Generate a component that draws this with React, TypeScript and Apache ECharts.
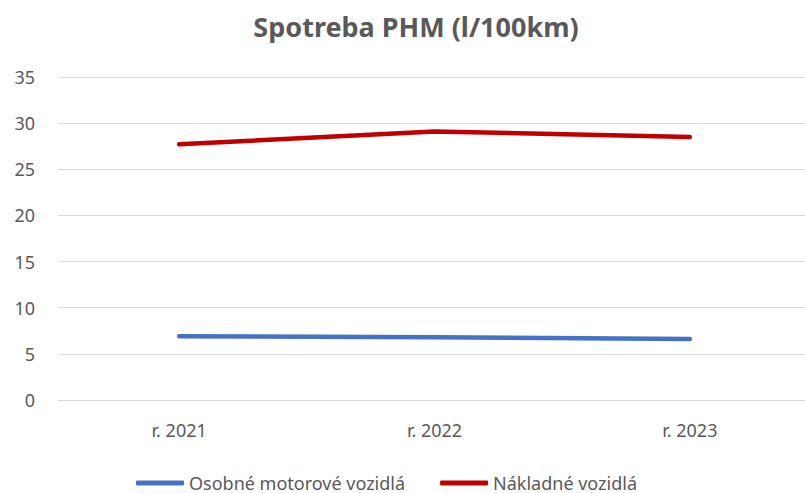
import React, { useEffect, useRef } from "react";
import * as echarts from "echarts";

const categories = ["r. 2021", "r. 2022", "r. 2023"];
const osobne = [6.9, 6.8, 6.6];
const nakladne = [27.7, 29.1, 28.5];
const seriesNames = ["Osobné motorové vozidlá", "Nákladné vozidlá"];
const titleText = "Spotreba PHM (l/100km)";

const FONT = "'Noto Sans', sans-serif";
const GRAY = "#595959";

export default function App() {
  const ref = useRef<HTMLDivElement>(null);
  useEffect(() => {
    if (!ref.current) return;
    const chart = echarts.init(ref.current, undefined, { renderer: "svg" });
    chart.setOption({
      animation: false,
      backgroundColor: "#fff",
      textStyle: { fontFamily: FONT },
      title: {
        text: titleText,
        left: 411,
        top: 8,
        textAlign: "center",
        textStyle: { fontFamily: FONT, fontSize: 27, fontWeight: "bold", color: GRAY },
      },
      legend: {
        left: 131,
        top: 469,
        itemWidth: 48,
        itemHeight: 5,
        itemGap: 35,
        icon: "roundRect",
        textStyle: { fontFamily: FONT, fontSize: 18, color: GRAY, lineHeight: 18 },
        data: seriesNames,
      },
      grid: [
        { left: 58, right: 0, top: 77, bottom: 93, outerBoundsMode: "none" },
        { left: 51.5, width: 766, top: 77, bottom: 93, outerBoundsMode: "none" },
      ],
      xAxis: [
        {
          gridIndex: 0,
          type: "category",
          data: categories,
          show: true,
          axisLine: { show: true, lineStyle: { color: "#d9d9d9", width: 1 } },
          axisTick: { show: false },
          axisLabel: { show: false },
        },
        {
          gridIndex: 1,
          type: "category",
          data: categories,
          axisLine: { show: false },
          axisTick: { show: false },
          axisLabel: { fontFamily: FONT, fontSize: 18, color: GRAY, margin: 21 },
        },
      ],
      yAxis: [
        {
          gridIndex: 0,
          type: "value",
          min: 0,
          max: 35,
          interval: 5,
          axisLine: { show: false },
          axisTick: { show: false },
          axisLabel: { fontFamily: FONT, fontSize: 18, color: GRAY, margin: 23 },
          splitLine: { lineStyle: { color: "#d9d9d9", width: 1 } },
        },
        {
          gridIndex: 1,
          type: "value",
          min: 0,
          max: 35,
          interval: 5,
          show: false,
          splitLine: { show: false },
        },
      ],
      series: [
        {
          name: seriesNames[0],
          type: "line",
          xAxisIndex: 1,
          yAxisIndex: 1,
          data: osobne,
          showSymbol: false,
          symbol: "none",
          itemStyle: { color: "#4472C4" },
          lineStyle: { color: "#4472C4", width: 4.5, cap: "round", join: "round" },
        },
        {
          name: seriesNames[1],
          type: "line",
          xAxisIndex: 1,
          yAxisIndex: 1,
          data: nakladne,
          showSymbol: false,
          symbol: "none",
          itemStyle: { color: "#C00000" },
          lineStyle: { color: "#C00000", width: 4.5, cap: "round", join: "round" },
        },
      ],
    });
    return () => chart.dispose();
  }, []);
  return <div ref={ref} style={{ width: 805, height: 493, position: "fixed", left: 0, top: 0 }} />;
}
